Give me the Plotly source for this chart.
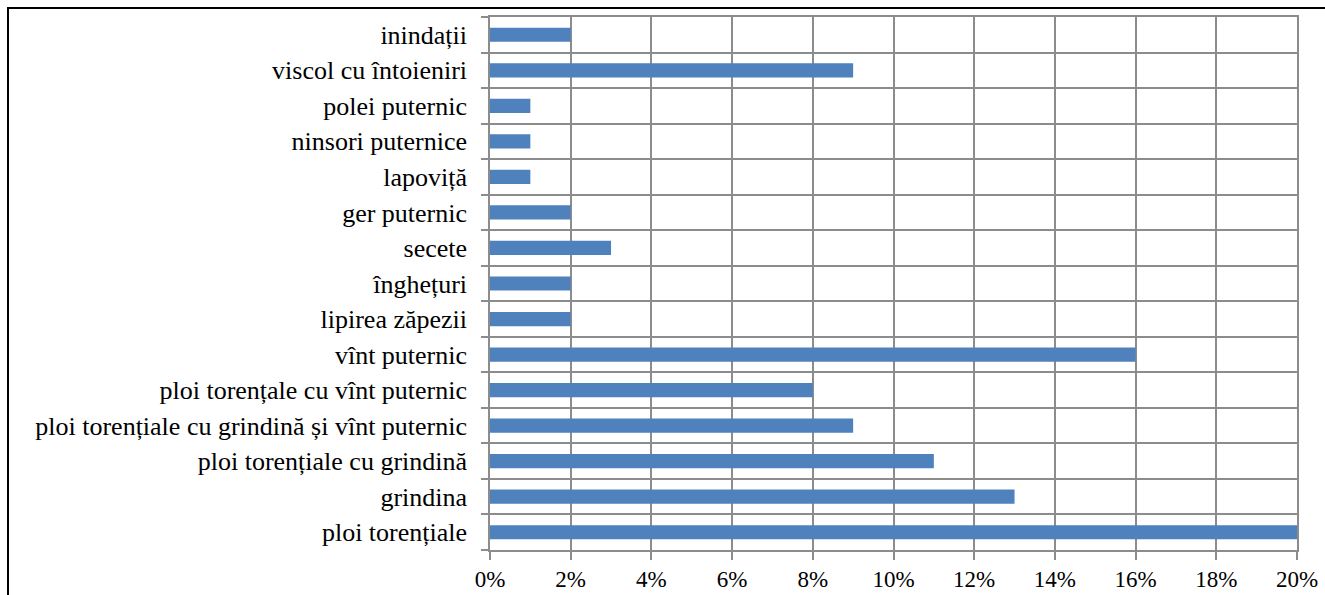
import plotly.graph_objects as go

# Hazard types, listed bottom to top as they appear on the axis
categories = [
    "ploi torențiale",
    "grindina",
    "ploi torențiale cu grindină",
    "ploi torențiale cu grindină și vînt puternic",
    "ploi torențale cu vînt puternic",
    "vînt puternic",
    "lipirea zăpezii",
    "înghețuri",
    "secete",
    "ger puternic",
    "lapoviță",
    "ninsori puternice",
    "polei puternic",
    "viscol cu întoieniri",
    "inindații",
]
# Share of events, in percent
shares = [20, 13, 11, 9, 8, 16, 2, 2, 3, 2, 1, 1, 1, 9, 2]

x_tick_vals = [0, 2, 4, 6, 8, 10, 12, 14, 16, 18, 20]
x_tick_text = [f"{v}%" for v in x_tick_vals]

W, H = 1325, 595
ml, mr, mt, mb = 490, 28, 17, 45
plot_w = W - ml - mr
plot_h = H - mt - mb

grid_col = "#8c8c8c"
family = "Liberation Serif, Times New Roman, serif"
y_font = dict(family=family, size=26, color="#000000")
x_font = dict(family=family, size=23, color="#000000")

fig = go.Figure(
    go.Bar(
        x=shares,
        y=categories,
        orientation="h",
        marker=dict(color="#4f81bd", line=dict(width=0)),
        hoverinfo="x+y",
    )
)

fig.update_layout(
    width=W,
    height=H,
    margin=dict(l=ml, r=mr, t=mt, b=mb, pad=0, autoexpand=False),
    paper_bgcolor="white",
    plot_bgcolor="white",
    bargap=0.6,
    showlegend=False,
    font=dict(family=family, color="#000000"),
    xaxis=dict(
        range=[0, 20],
        tickvals=x_tick_vals,
        ticktext=x_tick_text,
        showgrid=True,
        gridcolor=grid_col,
        gridwidth=1.5,
        ticks="outside",
        ticklen=8,
        tickcolor=grid_col,
        tickwidth=1.5,
        showline=True,
        linecolor=grid_col,
        linewidth=1.5,
        mirror=True,
        zeroline=False,
        tickfont=x_font,
        ticklabelstandoff=0,
        automargin=False,
    ),
    yaxis=dict(
        type="category",
        categoryorder="array",
        categoryarray=categories,
        tickson="boundaries",
        showgrid=True,
        gridcolor=grid_col,
        gridwidth=1.5,
        ticks="outside",
        ticklen=7,
        tickcolor=grid_col,
        tickwidth=1.5,
        showline=True,
        linecolor=grid_col,
        linewidth=1.5,
        mirror=True,
        tickfont=y_font,
        ticklabelstandoff=16,
        automargin=False,
    ),
)

# Outer black frame around the chart object (right and bottom edges fall off the page)
fig.add_shape(
    type="rect",
    xref="paper",
    yref="paper",
    x0=(8 - ml) / plot_w,
    x1=(W + 100 - ml) / plot_w,
    y0=-(mb + 100) / plot_h,
    y1=1 + (mt - 8) / plot_h,
    line=dict(color="#000000", width=2),
    fillcolor="rgba(0,0,0,0)",
    layer="above",
)

fig.write_html("out.html")
